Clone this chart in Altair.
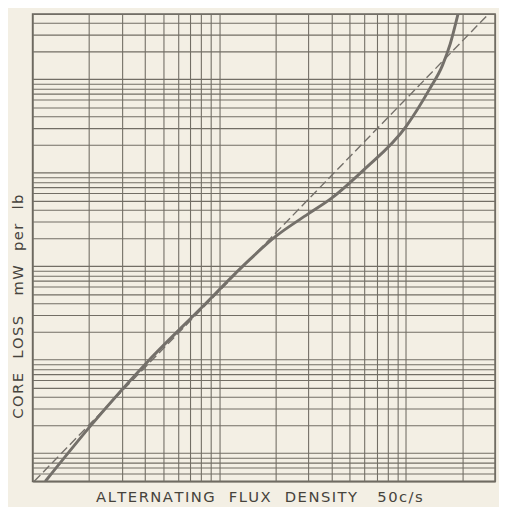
import altair as alt
import pandas as pd

# Grid (log-log graph paper) values
x_grid = [1, 2, 3, 4, 5, 6, 7, 8, 9, 10, 20, 30, 40, 50, 60, 70, 80, 90, 100, 200, 300]
y_grid = [0.5, 0.6, 0.7, 0.8, 0.9,
          1, 2, 3, 4, 5, 6, 7, 8, 9,
          10, 20, 30, 40, 50, 60, 70, 80, 90,
          100, 200, 300, 400, 500, 600, 700, 800, 900,
          1000, 2000, 3000, 4000, 5000, 6000, 7000, 8000, 9000,
          10000, 20000, 30000, 40000, 50000]

# Measured core loss curve (solid)
curve_b = [1.17, 2.07, 4.13, 7.85, 14.4, 19.95, 29.8, 39.8, 59.4, 100, 133.7, 156.6, 172.6, 190]
curve_w = [0.5, 2.02, 9.52, 34.4, 115.7, 207, 361, 532, 1075, 3125, 7850, 14030, 23930, 50000]

# Square-law reference line (dashed)
ref_b = [1.02, 277]
ref_w = [0.5, 50000]

grid_color = "#726e65"
ink = "#46433c"


def spaced(words):
    # letter-spaced words separated by wide gaps (non-collapsing spaces)
    return "\u00a0\u00a0\u00a0".join("\u200a".join(w) for w in words)


x_title = spaced(["ALTERNATING", "FLUX", "DENSITY", "\u00a050c/s"])
y_title = spaced(["CORE", "LOSS", "\u00a0mW", "per", "lb"])

xs = alt.Scale(type="log", domain=[1, 300], nice=False)
ys = alt.Scale(type="log", domain=[0.5, 50000], nice=False)

curve_df = pd.DataFrame({"B": curve_b, "W": curve_w, "i": range(len(curve_b))})
ref_df = pd.DataFrame({"B": ref_b, "W": ref_w, "i": range(len(ref_b))})

curve = alt.Chart(curve_df).mark_line(
    color="#74706a", strokeWidth=3, interpolate="monotone", clip=True
).encode(
    x=alt.X("B:Q", scale=xs,
            axis=alt.Axis(values=x_grid, labels=False, ticks=False, domain=False,
                          grid=True, gridColor=grid_color, gridWidth=1.1, gridOpacity=1,
                          title=x_title,
                          titleFont="DejaVu Sans", titleFontSize=15,
                          titleFontWeight="normal", titleColor=ink,
                          titleX=230, titleY=20, titleBaseline="alphabetic")),
    y=alt.Y("W:Q", scale=ys,
            axis=alt.Axis(values=y_grid, labels=False, ticks=False, domain=False,
                          grid=True, gridColor=grid_color, gridWidth=1.1, gridOpacity=1,
                          title=y_title,
                          titleFont="DejaVu Sans", titleFontSize=15,
                          titleFontWeight="normal", titleColor=ink,
                          titleX=-15, titleY=297, titleAngle=-90,
                          titleAlign="center", titleBaseline="middle")),
    order="i:Q",
)

ref = alt.Chart(ref_df).mark_line(
    color="#74706a", strokeWidth=1.4, strokeDash=[9, 4], clip=True
).encode(
    x=alt.X("B:Q", scale=xs),
    y=alt.Y("W:Q", scale=ys),
    order="i:Q",
)

chart = alt.layer(ref, curve).properties(
    width=470, height=475,
    autosize="none",
    padding={"left": 25, "top": 2, "right": 4, "bottom": 22},
    background="#f3efe4",
).configure_view(
    stroke="#6a665d", strokeWidth=1.6, fill="#f3efe4"
)

chart.save("out.html", embed_options={"renderer": "svg", "actions": False})
